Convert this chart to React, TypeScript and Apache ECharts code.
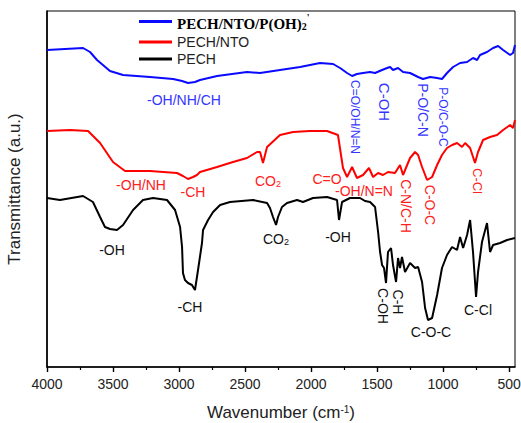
import React, { useEffect, useRef } from 'react';
import * as echarts from 'echarts';

// Wavenumbers (cm-1) and transmittance (arbitrary units)
const blueWn = [4000, 3864, 3727, 3674, 3621, 3523, 3424, 3220, 3045, 2977, 2932, 2879, 2841, 2712, 2485, 2386, 2235, 2083, 1932, 1833, 1780, 1727, 1689, 1652, 1606, 1553, 1515, 1462, 1424, 1401, 1379, 1341, 1303, 1250, 1189, 1152, 1098, 1045, 1008, 970, 924, 871, 818, 773, 742, 720, 667, 621, 583, 545, 492, 470, 455];
const blueT = [317, 318, 319, 315, 307, 296, 292, 290, 288, 286, 284, 285, 287, 291, 295, 294, 297, 300, 304, 303, 299, 294, 291, 293, 294, 295, 294, 297, 299, 300, 297, 299, 295, 294, 290, 288, 290, 289, 288, 294, 300, 304, 305, 309, 307, 312, 315, 319, 321, 317, 312, 314, 322];

const redWn = [4000, 3826, 3689, 3598, 3500, 3409, 3220, 3015, 2970, 2932, 2894, 2864, 2841, 2712, 2591, 2485, 2409, 2386, 2364, 2333, 2235, 2136, 2008, 1879, 1796, 1758, 1727, 1689, 1652, 1606, 1561, 1530, 1492, 1455, 1417, 1364, 1326, 1303, 1250, 1212, 1189, 1159, 1121, 1083, 1045, 1008, 970, 932, 894, 856, 833, 795, 758, 735, 697, 644, 591, 545, 492, 470, 455];
const redT = [236, 237, 236, 224, 205, 196, 196, 194, 191, 188, 190, 192, 195, 200, 205, 209, 215, 215, 204, 220, 232, 235, 236, 236, 232, 199, 190, 200, 189, 192, 199, 190, 194, 192, 195, 194, 202, 192, 209, 215, 212, 200, 187, 190, 202, 212, 219, 222, 224, 220, 224, 219, 204, 215, 227, 230, 232, 237, 242, 239, 247];

const blackWn = [4000, 3902, 3727, 3652, 3598, 3561, 3523, 3470, 3424, 3348, 3273, 3197, 3091, 3030, 2992, 2977, 2970, 2955, 2932, 2902, 2879, 2856, 2826, 2818, 2780, 2742, 2689, 2614, 2439, 2333, 2311, 2288, 2265, 2250, 2220, 2182, 2106, 2061, 1985, 1879, 1803, 1788, 1765, 1705, 1629, 1591, 1553, 1515, 1492, 1477, 1462, 1447, 1432, 1417, 1394, 1379, 1356, 1341, 1326, 1311, 1288, 1250, 1212, 1189, 1159, 1136, 1114, 1083, 1045, 1008, 970, 932, 894, 871, 848, 818, 795, 773, 750, 735, 705, 667, 644, 621, 568, 515, 455];
const blackT = [169, 167, 171, 165, 150, 140, 138, 137, 142, 157, 167, 169, 167, 157, 140, 120, 94, 87, 84, 82, 77, 97, 124, 137, 147, 155, 162, 165, 167, 164, 159, 150, 142, 150, 160, 164, 167, 165, 169, 170, 167, 147, 165, 169, 169, 166, 165, 160, 135, 115, 102, 99, 84, 115, 119, 102, 85, 109, 99, 110, 95, 104, 99, 100, 85, 59, 47, 49, 72, 99, 112, 120, 117, 130, 119, 132, 147, 115, 70, 95, 125, 144, 115, 122, 124, 127, 129];

const majorTicks = [4000, 3500, 3000, 2500, 2000, 1500, 1000, 500];
const minorTicks = [3750, 3250, 2750, 2250, 1750, 1250, 750];

const seriesNames = ["PECH/NTO/P(OH)2'", 'PECH/NTO', 'PECH'];

const BLUE = '#0a0aff';
const RED = '#ff0000';
const BLACK = '#000000';
const BLUE_TXT = '#3535ff';
const RED_TXT = '#ff2020';
const BLACK_TXT = '#111111';
const SANS = '"Liberation Sans", Arial, sans-serif';
const SERIF = '"Liberation Serif", "Times New Roman", serif';

type Note = { text: string; x: number; y: number; v?: boolean; c: string; fs: number };
const notes: Note[] = [
  { text: '-OH/NH/CH', x: 184, y: 100, c: BLUE_TXT, fs: 14 },
  { text: 'C=O/OH/N=N', x: 355, y: 117, v: true, c: BLUE_TXT, fs: 12 },
  { text: 'C-OH', x: 384, y: 102, v: true, c: BLUE_TXT, fs: 15 },
  { text: 'P-O/C-N', x: 423, y: 110, v: true, c: BLUE_TXT, fs: 14 },
  { text: 'P-O/C-O-C', x: 443, y: 117, v: true, c: BLUE_TXT, fs: 12 },
  { text: '-OH/NH', x: 141, y: 185, c: RED_TXT, fs: 14 },
  { text: '-CH', x: 193, y: 192, c: RED_TXT, fs: 14 },
  { text: 'CO{s|2}', x: 268, y: 181, c: RED_TXT, fs: 14 },
  { text: 'C=O', x: 327, y: 179, c: RED_TXT, fs: 14 },
  { text: '-OH/N=N', x: 364, y: 191, c: RED_TXT, fs: 14 },
  { text: 'C-N/C-H', x: 406, y: 206, v: true, c: RED_TXT, fs: 14 },
  { text: 'C-O-C', x: 430, y: 205, v: true, c: RED_TXT, fs: 14 },
  { text: 'C-Cl', x: 477, y: 181, v: true, c: RED_TXT, fs: 13 },
  { text: '-OH', x: 112, y: 250, c: BLACK_TXT, fs: 14 },
  { text: '-CH', x: 190, y: 307, c: BLACK_TXT, fs: 14 },
  { text: 'CO{s|2}', x: 276, y: 239, c: BLACK_TXT, fs: 14 },
  { text: '-OH', x: 338, y: 237, c: BLACK_TXT, fs: 14 },
  { text: 'C-OH', x: 383, y: 306, v: true, c: BLACK_TXT, fs: 14 },
  { text: 'C-H', x: 398, y: 302, v: true, c: BLACK_TXT, fs: 14 },
  { text: 'C-O-C', x: 431, y: 332, c: BLACK_TXT, fs: 14 },
  { text: 'C-Cl', x: 478, y: 310, c: BLACK_TXT, fs: 14 },
];

function pairs(xs: number[], ys: number[]) {
  return xs.map((x, i) => [x, ys[i]]);
}

export default function App() {
  const ref = useRef<HTMLDivElement>(null);
  useEffect(() => {
    const chart = echarts.init(ref.current!, null, { renderer: 'svg' });
    const legendRich = {
      a: { fontFamily: SERIF, fontWeight: 'bold', fontSize: 15, lineHeight: 19, verticalAlign: 'bottom', color: '#000' },
      b: { fontFamily: SERIF, fontWeight: 'bold', fontSize: 10, lineHeight: 9, verticalAlign: 'bottom', color: '#000' },
      c: { fontFamily: SERIF, fontWeight: 'bold', fontSize: 10, lineHeight: 10, verticalAlign: 'top', color: '#000' },
    };
    const legendBase = {
      padding: 0,
      icon: 'rect',
      itemWidth: 33,
      itemHeight: 3,
      selectedMode: false,
      left: 139,
    };
    const graphics = notes.map((n) => ({
      type: 'text',
      x: n.x,
      y: n.y,
      rotation: n.v ? -Math.PI / 2 : 0,
      silent: true,
      style: {
        text: n.text,
        fill: n.c,
        fontSize: n.fs,
        fontFamily: SANS,
        align: 'center',
        verticalAlign: 'middle',
        rich: {
          s: { fontSize: 9, lineHeight: 8, verticalAlign: 'bottom', fill: n.c, fontFamily: SANS },
        },
      },
    }));

    chart.setOption({
      animation: false,
      backgroundColor: '#ffffff',
      grid: {
        left: 47,
        right: 6,
        top: 11,
        bottom: 56,
        show: true,
        borderColor: '#000',
        borderWidth: 1,
        containLabel: false,
        outerBoundsMode: 'none',
      },
      legend: [
        {
          ...legendBase,
          top: 12,
          data: [seriesNames[0]],
          formatter: () => "{a|PECH/NTO/P(OH)}{b|2}{c|'}",
          textStyle: { rich: legendRich },
        },
        {
          ...legendBase,
          top: 35,
          data: [seriesNames[1]],
          textStyle: { fontFamily: SANS, fontSize: 14, color: '#222' },
        },
        {
          ...legendBase,
          top: 52,
          data: [seriesNames[2]],
          textStyle: { fontFamily: SANS, fontSize: 14, color: '#222' },
        },
      ],
      xAxis: [
        {
          type: 'value',
          inverse: true,
          min: 455,
          max: 4000,
          name: 'Wavenumber (cm{s|-1})',
          nameLocation: 'middle',
          nameGap: 37,
          nameTextStyle: {
            fontFamily: SANS,
            fontSize: 17,
            color: '#222',
            rich: { s: { fontFamily: SANS, fontSize: 10, lineHeight: 10, verticalAlign: 'top', color: '#222' } },
          },
          axisLine: { lineStyle: { color: '#000', width: 1.6 } },
          axisTick: { customValues: majorTicks, length: 5, lineStyle: { color: '#000', width: 1.4 } },
          axisLabel: {
            customValues: majorTicks,
            margin: 10,
            fontFamily: SANS,
            fontSize: 14,
            color: '#222',
            formatter: (v: number) => String(Math.round(v)),
          },
          splitLine: { show: false },
        },
        {
          type: 'value',
          inverse: true,
          min: 455,
          max: 4000,
          position: 'bottom',
          axisLine: { show: false },
          axisTick: { customValues: minorTicks, length: 3, lineStyle: { color: '#000', width: 1.2 } },
          axisLabel: { show: false },
          splitLine: { show: false },
        },
      ],
      yAxis: {
        type: 'value',
        min: 0,
        max: 356,
        name: 'Transmittance (a.u.)',
        nameLocation: 'middle',
        nameGap: 24,
        nameTextStyle: { fontFamily: SANS, fontSize: 17, color: '#222' },
        axisLine: { show: true, lineStyle: { color: '#000', width: 1.6 } },
        axisTick: { show: false },
        axisLabel: { show: false },
        splitLine: { show: false },
      },
      series: [
        {
          name: seriesNames[0],
          type: 'line',
          data: pairs(blueWn, blueT),
          showSymbol: false,
          symbol: 'none',
          color: BLUE,
          lineStyle: { color: BLUE, width: 2 },
        },
        {
          name: seriesNames[1],
          type: 'line',
          data: pairs(redWn, redT),
          showSymbol: false,
          symbol: 'none',
          color: RED,
          lineStyle: { color: RED, width: 2 },
        },
        {
          name: seriesNames[2],
          type: 'line',
          data: pairs(blackWn, blackT),
          showSymbol: false,
          symbol: 'none',
          color: BLACK,
          lineStyle: { color: BLACK, width: 2 },
        },
      ],
      graphic: graphics,
    });
    return () => chart.dispose();
  }, []);
  return (
    <div
      ref={ref}
      style={{ position: 'absolute', left: 0, top: 0, width: 521, height: 423 }}
    />
  );
}
